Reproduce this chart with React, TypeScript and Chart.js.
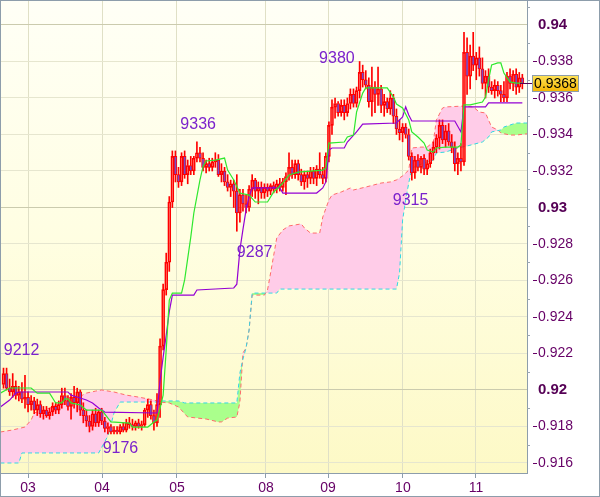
import React, { useEffect, useRef } from "react";
import { Chart, registerables } from "chart.js";

Chart.register(...registerables);

const SANS = "'Liberation Sans', Arial, sans-serif";

// ---- axis data ----
const xTickPos = [8, 32.1, 56.5, 85.5, 105.7, 130.1, 153.9];
const xTickLabels = ["03", "04", "05", "08", "09", "10", "11"];
const yTickValues = [0.916, 0.918, 0.92, 0.922, 0.924, 0.926, 0.928, 0.93, 0.932, 0.934, 0.936, 0.938, 0.94];
const yTickLabels = ["0.916", "0.918", "0.92", "0.922", "0.924", "0.926", "0.928", "0.93", "0.932", "0.934", "0.936", "0.938", "0.94"];
const yMajor = [0.92, 0.93, 0.94];
const yMinor = [0.917, 0.919, 0.921, 0.923, 0.925, 0.927, 0.929, 0.931, 0.933, 0.935, 0.937, 0.939, 0.941];
const X_MIN = -0.814;
const X_MAX = 170.52;
const Y_MIN = 0.915452;
const Y_MAX = 0.941315;
const lastPrice = 0.9368;
const lastPriceLabel = "0.9368";

// ---- candles [open, high, low, close] ----
const candles: [number, number, number, number][] = [
  [0.9203, 0.9212, 0.9201, 0.9209], [0.9209, 0.9212, 0.92, 0.9201], [0.9201, 0.9206, 0.9197, 0.9199], [0.9199, 0.9209, 0.9196, 0.9202],
  [0.9202, 0.9205, 0.9195, 0.9197], [0.9197, 0.9202, 0.9194, 0.9199], [0.9199, 0.9204, 0.9193, 0.9195], [0.9195, 0.9208, 0.919, 0.9196],
  [0.9196, 0.9199, 0.9188, 0.9192], [0.9192, 0.9197, 0.9189, 0.9194], [0.9194, 0.9196, 0.9187, 0.9189], [0.9189, 0.9195, 0.9186, 0.9192],
  [0.9192, 0.9194, 0.9185, 0.9187], [0.9187, 0.9191, 0.9184, 0.9189], [0.9189, 0.9191, 0.9185, 0.9186], [0.9186, 0.919, 0.9184, 0.9188],
  [0.9188, 0.9193, 0.9186, 0.9191], [0.9191, 0.9193, 0.9187, 0.9189], [0.9189, 0.9194, 0.9187, 0.9192], [0.9192, 0.9201, 0.919, 0.9197],
  [0.9197, 0.9201, 0.9192, 0.9194], [0.9194, 0.9197, 0.9189, 0.9191], [0.9191, 0.9198, 0.9184, 0.9196], [0.9196, 0.9202, 0.919, 0.9193],
  [0.9193, 0.9201, 0.9188, 0.9199], [0.9199, 0.92, 0.9186, 0.9189], [0.9189, 0.9193, 0.9182, 0.9186], [0.9186, 0.9189, 0.918, 0.9183],
  [0.9183, 0.9186, 0.9177, 0.918], [0.918, 0.9189, 0.9178, 0.9187], [0.9187, 0.919, 0.918, 0.9182], [0.9182, 0.9189, 0.918, 0.9188],
  [0.9188, 0.919, 0.9181, 0.9183], [0.9183, 0.9185, 0.9177, 0.9179], [0.9179, 0.9182, 0.9176, 0.918], [0.918, 0.9181, 0.9176, 0.9177],
  [0.9177, 0.918, 0.9176, 0.9178], [0.9178, 0.918, 0.9176, 0.9177], [0.9177, 0.9181, 0.9176, 0.918], [0.918, 0.9182, 0.9177, 0.9178],
  [0.9178, 0.9184, 0.9177, 0.9182], [0.9182, 0.9185, 0.9179, 0.9181], [0.9181, 0.9184, 0.9178, 0.918], [0.918, 0.9183, 0.9178, 0.9182],
  [0.9182, 0.9184, 0.9179, 0.918], [0.918, 0.9183, 0.9178, 0.9181], [0.9181, 0.919, 0.918, 0.9189], [0.9189, 0.9195, 0.9185, 0.9192],
  [0.9192, 0.9194, 0.9184, 0.9186], [0.9186, 0.9189, 0.9178, 0.9182], [0.9182, 0.9198, 0.918, 0.9192], [0.9192, 0.9228, 0.9185, 0.9224],
  [0.9224, 0.9258, 0.9222, 0.9255], [0.9255, 0.9275, 0.9252, 0.927], [0.927, 0.9306, 0.9265, 0.9303], [0.9303, 0.9331, 0.93, 0.9328],
  [0.9328, 0.9331, 0.9314, 0.9318], [0.9318, 0.9322, 0.9311, 0.9314], [0.9314, 0.933, 0.9312, 0.9328], [0.9328, 0.9331, 0.9316, 0.9318],
  [0.9318, 0.9326, 0.9313, 0.9323], [0.9323, 0.9328, 0.9318, 0.932], [0.932, 0.9328, 0.9318, 0.9327], [0.9327, 0.9336, 0.9325, 0.933],
  [0.933, 0.9333, 0.9325, 0.9327], [0.9327, 0.933, 0.932, 0.9322], [0.9322, 0.9326, 0.9319, 0.9324], [0.9324, 0.9327, 0.932, 0.9322],
  [0.9322, 0.9327, 0.932, 0.9325], [0.9325, 0.933, 0.9322, 0.9326], [0.9326, 0.9329, 0.9317, 0.9318], [0.9318, 0.9324, 0.9314, 0.932],
  [0.932, 0.9322, 0.9312, 0.9314], [0.9314, 0.9318, 0.9309, 0.9311], [0.9311, 0.9315, 0.9306, 0.9313], [0.9313, 0.9315, 0.93, 0.9309],
  [0.9309, 0.9318, 0.9287, 0.9297], [0.9297, 0.931, 0.9292, 0.9307], [0.9307, 0.931, 0.9298, 0.9302], [0.9302, 0.9307, 0.9297, 0.93],
  [0.93, 0.9312, 0.9298, 0.931], [0.931, 0.9318, 0.9306, 0.9315], [0.9315, 0.9316, 0.9305, 0.9309], [0.9309, 0.9314, 0.9302, 0.9311],
  [0.9311, 0.9314, 0.9305, 0.9308], [0.9308, 0.9313, 0.9305, 0.9311], [0.9311, 0.9313, 0.9306, 0.9309], [0.9309, 0.9313, 0.9307, 0.9312],
  [0.9312, 0.9314, 0.9308, 0.931], [0.931, 0.9315, 0.9308, 0.9313], [0.9313, 0.9316, 0.9309, 0.9311], [0.9311, 0.9316, 0.9309, 0.9314],
  [0.9314, 0.9319, 0.9307, 0.9317], [0.9317, 0.933, 0.9315, 0.9322], [0.9322, 0.9326, 0.9316, 0.9318], [0.9318, 0.9326, 0.9316, 0.9324],
  [0.9324, 0.9326, 0.9315, 0.9318], [0.9318, 0.9321, 0.9312, 0.9314], [0.9314, 0.932, 0.931, 0.9318], [0.9318, 0.932, 0.9311, 0.9316],
  [0.9316, 0.9322, 0.9313, 0.932], [0.932, 0.9322, 0.9313, 0.9316], [0.9316, 0.9323, 0.9312, 0.9321], [0.9321, 0.933, 0.9316, 0.9318],
  [0.9318, 0.9322, 0.9313, 0.9316], [0.9316, 0.933, 0.9314, 0.9328], [0.9328, 0.9347, 0.9325, 0.9345], [0.9345, 0.9359, 0.934, 0.9355],
  [0.9355, 0.936, 0.9349, 0.9357], [0.9357, 0.9358, 0.935, 0.9352], [0.9352, 0.9359, 0.935, 0.9356], [0.9356, 0.9359, 0.9348, 0.9352],
  [0.9352, 0.936, 0.935, 0.9357], [0.9357, 0.9365, 0.9354, 0.9362], [0.9362, 0.9365, 0.9355, 0.9357], [0.9357, 0.9366, 0.9355, 0.9364],
  [0.9364, 0.938, 0.936, 0.9374], [0.9374, 0.9378, 0.9366, 0.937], [0.937, 0.9375, 0.9365, 0.9367], [0.9367, 0.9371, 0.9355, 0.9358],
  [0.9358, 0.9377, 0.935, 0.9366], [0.9366, 0.9369, 0.9352, 0.9362], [0.9362, 0.9377, 0.9356, 0.9365], [0.9365, 0.9367, 0.9352, 0.9356],
  [0.9356, 0.9362, 0.935, 0.9358], [0.9358, 0.936, 0.9352, 0.9354], [0.9354, 0.9364, 0.9351, 0.936], [0.936, 0.9362, 0.9346, 0.935],
  [0.935, 0.9354, 0.934, 0.9343], [0.9343, 0.9348, 0.9337, 0.9341], [0.9341, 0.9346, 0.9336, 0.9344], [0.9344, 0.9346, 0.9338, 0.934],
  [0.934, 0.9343, 0.9326, 0.9328], [0.9328, 0.933, 0.9315, 0.9319], [0.9319, 0.9328, 0.9316, 0.9326], [0.9326, 0.9329, 0.932, 0.9322],
  [0.9322, 0.9328, 0.9319, 0.9327], [0.9327, 0.9329, 0.9318, 0.9321], [0.9321, 0.9326, 0.9318, 0.9324], [0.9324, 0.9332, 0.9322, 0.933],
  [0.933, 0.9336, 0.9326, 0.9333], [0.9333, 0.934, 0.933, 0.9338], [0.9338, 0.9348, 0.9332, 0.9345], [0.9345, 0.9348, 0.9335, 0.9337],
  [0.9337, 0.9345, 0.9333, 0.9342], [0.9342, 0.9346, 0.9334, 0.9336], [0.9336, 0.934, 0.933, 0.9333], [0.9333, 0.9336, 0.932, 0.9324],
  [0.9324, 0.933, 0.9318, 0.9327], [0.9327, 0.9335, 0.932, 0.9325], [0.9325, 0.9396, 0.9323, 0.9385], [0.9385, 0.9393, 0.9362, 0.9372],
  [0.9372, 0.9389, 0.9365, 0.9383], [0.9383, 0.9396, 0.9375, 0.9378], [0.9378, 0.9385, 0.937, 0.9382], [0.9382, 0.9388, 0.9372, 0.9376],
  [0.9376, 0.9382, 0.9365, 0.9368], [0.9368, 0.9375, 0.936, 0.9372], [0.9372, 0.9376, 0.9363, 0.9366], [0.9366, 0.9369, 0.9362, 0.9364],
  [0.9364, 0.937, 0.936, 0.9367], [0.9367, 0.9369, 0.9361, 0.9364], [0.9364, 0.9367, 0.9358, 0.9362], [0.9362, 0.9369, 0.9358, 0.936],
  [0.936, 0.9374, 0.9358, 0.9372], [0.9372, 0.9376, 0.9365, 0.9368], [0.9368, 0.9375, 0.9364, 0.9373], [0.9373, 0.9376, 0.9362, 0.9366],
  [0.9366, 0.9374, 0.9363, 0.9371], [0.9371, 0.9373, 0.9365, 0.9368],
];

// ---- Ichimoku lines [bar index, price] ----
const tenkan: [number, number][] = [
  [-1, 0.91983], [2, 0.92011], [9, 0.92011], [11, 0.91983], [15, 0.91983], [17, 0.91929], [19, 0.91929], [20, 0.91951], [21, 0.91951],
  [22, 0.91929], [25, 0.91918], [27, 0.9189], [32, 0.9189], [35, 0.91825], [41, 0.91819], [42, 0.91797], [47, 0.91797], [49, 0.91825],
  [50, 0.91835], [51, 0.919], [52, 0.91972], [53, 0.92219], [54, 0.92493], [55, 0.92531], [58, 0.92531], [59, 0.92603], [61, 0.92838],
  [62, 0.9297], [64, 0.93151], [65, 0.93225], [66, 0.93255], [69, 0.9326], [72, 0.93271], [73, 0.93205], [75, 0.93151], [77, 0.93079],
  [80, 0.93068], [82, 0.9303], [86, 0.9303], [88, 0.93085], [91, 0.93134], [93, 0.93178], [96, 0.93194], [104, 0.93205], [105, 0.93216],
  [106, 0.93353], [111, 0.93359], [112, 0.93386], [114, 0.93397], [115, 0.93523], [117, 0.93627], [118, 0.93655], [125, 0.93655],
  [127, 0.93605], [128, 0.93567], [130, 0.93545], [132, 0.93479], [133, 0.93414], [135, 0.93386], [137, 0.93353], [138, 0.93315],
  [140, 0.93304], [141, 0.93326], [144, 0.93331], [148, 0.93331], [149, 0.93342], [150, 0.93562], [152, 0.93562], [156, 0.93578],
  [157, 0.93605], [158, 0.93699], [159, 0.93781], [161, 0.93792], [162, 0.93792], [163, 0.93737], [165, 0.93688], [167, 0.93682], [169, 0.93682],
];
const kijun: [number, number][] = [
  [-1, 0.91907], [2, 0.91945], [4, 0.91983], [5, 0.91989], [21, 0.91989], [22, 0.91972], [25, 0.91956], [27, 0.91945], [29, 0.91929],
  [31, 0.91901], [33, 0.91879], [50, 0.91874], [51, 0.9205], [52, 0.9218], [53, 0.923], [54, 0.9243], [55, 0.9252], [62, 0.9252],
  [63, 0.92548], [75, 0.92559], [76, 0.9258], [77, 0.92767], [78, 0.9288], [79, 0.92986], [80, 0.9306], [81, 0.93107], [90, 0.93107],
  [91, 0.93079], [102, 0.93079], [104, 0.93107], [105, 0.9314], [106, 0.93315], [107, 0.93326], [111, 0.93326], [112, 0.93359],
  [115, 0.93414], [117, 0.93457], [128, 0.93463], [130, 0.93496], [131, 0.93551], [132, 0.93507], [133, 0.93474], [147, 0.93474],
  [149, 0.93414], [150, 0.93551], [157, 0.93551], [158, 0.93573], [169, 0.93573],
];
const senkouA: [number, number][] = [
  [-1, 0.9177], [3, 0.91781], [7, 0.91797], [9, 0.91835], [10, 0.91874], [13, 0.9189], [16, 0.91907], [19, 0.91934], [24, 0.91956],
  [27, 0.91983], [30, 0.91994], [32, 0.92], [36, 0.91989], [40, 0.91972], [44, 0.91961], [49, 0.91945], [51, 0.91934], [54, 0.91929],
  [57, 0.91907], [60, 0.91852], [66, 0.91841], [70, 0.91825], [71, 0.91825], [73, 0.91846], [76, 0.91852], [77, 0.91934], [78, 0.92203],
  [79, 0.9223], [80, 0.92329], [81, 0.9252], [85, 0.9252], [86, 0.92548], [87, 0.92641], [89, 0.92833], [91, 0.92877], [93, 0.92899],
  [97, 0.9291], [98, 0.92888], [100, 0.9286], [103, 0.9286], [104, 0.92948], [106, 0.93041], [107, 0.93068], [110, 0.93085],
  [113, 0.93107], [114, 0.93096], [118, 0.93112], [123, 0.93134], [126, 0.9314], [128, 0.93151], [130, 0.93173], [132, 0.93205],
  [133, 0.93326], [136, 0.93331], [138, 0.93331], [140, 0.93359], [141, 0.93479], [143, 0.93545], [144, 0.93551], [150, 0.93556],
  [153, 0.93551], [155, 0.93523], [157, 0.93518], [158, 0.93479], [159, 0.93441], [161, 0.93425], [162, 0.93408], [165, 0.93397],
  [167, 0.93397], [170, 0.93403], [172, 0.93403],
];
const senkouB: [number, number][] = [
  [-1, 0.916], [5, 0.916], [6, 0.91655], [31, 0.91655], [34, 0.91748], [36, 0.91874], [38, 0.91934], [50, 0.91934], [51, 0.9194],
  [57, 0.9194], [59, 0.91929], [76, 0.91929], [77, 0.92093], [78, 0.9217], [79, 0.9223], [80, 0.92329], [81, 0.92531], [89, 0.92531],
  [90, 0.92553], [128, 0.92553], [129, 0.92641], [130, 0.92931], [131, 0.93041], [132, 0.93134], [133, 0.93216], [137, 0.93244],
  [140, 0.9326], [141, 0.93299], [144, 0.93304], [148, 0.93326], [151, 0.93337], [156, 0.93359], [158, 0.93386], [159, 0.93414],
  [162, 0.93425], [163, 0.93441], [167, 0.93463], [170, 0.93463], [172, 0.93463],
];

// ---- zigzag swing labels ----
const swingText = ["9212", "9336", "9380", "9287", "9315", "9176"];
const swingIdx = [5.9, 63.4, 108.6, 81.8, 132.6, 38.1];
const swingPrice = [0.92214, 0.93457, 0.93814, 0.92753, 0.93036, 0.9168];

const RED = "#ff0000";
const BEAR = "#7a48c4";
const PINK = "#ffcce8";
const GREEN_FILL = "#aaff8c";
const FRAME = "#8d9dab";
const AXIS_TXT = "#660066";

const isMajor = (v: number) => yMajor.some((m) => Math.abs(m - v) < 1e-7);

const framePlugin = {
  id: "frame",
  beforeDraw(chart: any) {
    const { ctx, chartArea } = chart;
    const { left, top, right, bottom } = chartArea;
    ctx.save();
    ctx.fillStyle = "#ffffff";
    ctx.fillRect(0, 0, chart.width, chart.height);
    const g = ctx.createLinearGradient(0, top, 0, bottom);
    g.addColorStop(0, "#fffff6");
    g.addColorStop(0.5, "#fffee2");
    g.addColorStop(1, "#fdf9c6");
    ctx.fillStyle = g;
    ctx.fillRect(left, top, right - left, bottom - top);
    ctx.restore();
  },
  afterDraw(chart: any) {
    const { ctx, chartArea } = chart;
    const { right, bottom } = chartArea;
    const ys = chart.scales.y;
    const xs = chart.scales.x;
    ctx.save();
    ctx.strokeStyle = FRAME;
    ctx.lineWidth = 1;
    ctx.strokeRect(0.5, 0.5, chart.width - 1, chart.height - 1);
    ctx.beginPath();
    ctx.moveTo(0.5, 0.5);
    ctx.lineTo(0.5, bottom);
    ctx.moveTo(0.5, 0.5);
    ctx.lineTo(right, 0.5);
    ctx.stroke();
    // minor ticks on the price axis
    ctx.strokeStyle = "#9aa6b0";
    yMinor.forEach((v) => {
      const py = Math.round(ys.getPixelForValue(v)) + 0.5;
      ctx.beginPath();
      ctx.moveTo(right, py);
      ctx.lineTo(right + 3, py);
      ctx.stroke();
    });
    // dash marks before regular labels
    ctx.strokeStyle = AXIS_TXT;
    yTickValues.forEach((v) => {
      if (isMajor(v)) return;
      const py = Math.round(ys.getPixelForValue(v)) + 0.5;
      ctx.beginPath();
      ctx.moveTo(533, py);
      ctx.lineTo(537, py);
      ctx.stroke();
    });
    // swing labels
    ctx.fillStyle = "#7b22cc";
    ctx.font = "16px " + SANS;
    ctx.textAlign = "center";
    ctx.textBaseline = "middle";
    swingText.forEach((t, i) => {
      ctx.fillText(t, xs.getPixelForValue(swingIdx[i]), ys.getPixelForValue(swingPrice[i]));
    });
    // last price marker + box
    const py = Math.round(ys.getPixelForValue(lastPrice));
    ctx.strokeStyle = "#550055";
    ctx.beginPath();
    ctx.moveTo(right - 7, py + 0.5);
    ctx.lineTo(right + 5, py + 0.5);
    ctx.stroke();
    const bx = 532, bw = 47, bh = 17, by = py - 8;
    const bg = ctx.createLinearGradient(0, by, 0, by + bh);
    bg.addColorStop(0, "#ffe45a");
    bg.addColorStop(1, "#f4b400");
    ctx.fillStyle = bg;
    ctx.fillRect(bx, by, bw, bh);
    ctx.strokeStyle = FRAME;
    ctx.strokeRect(bx + 0.5, by + 0.5, bw - 1, bh - 1);
    ctx.fillStyle = "#000000";
    ctx.font = "14px " + SANS;
    ctx.textAlign = "center";
    ctx.textBaseline = "middle";
    ctx.fillText(lastPriceLabel, bx + bw / 2, py + 1);
    ctx.restore();
  },
};

export default function App() {
  const ref = useRef<HTMLCanvasElement>(null);
  useEffect(() => {
    document.body.style.margin = "0";
    const canvas = ref.current;
    if (!canvas) return;
    const toPts = (arr: [number, number][]) => arr.map(([x, y]) => ({ x, y }));
    const bodyData = candles.map((c, i) => ({ x: i, y: [c[0], c[3]] }));
    const upperWick = candles.map((c, i) => ({ x: i, y: [Math.max(c[0], c[3]), c[1]] }));
    const lowerWick = candles.map((c, i) => ({ x: i, y: [c[2], Math.min(c[0], c[3])] }));

    const chart = new Chart(canvas, {
      type: "line",
      data: {
        datasets: [
          {
            type: "line", label: "Senkou Span A", data: toPts(senkouA), borderColor: "#ff6b6b", borderWidth: 1,
            borderDash: [4, 3], pointRadius: 0, tension: 0, order: 9,
            fill: { target: 1, above: PINK, below: GREEN_FILL },
          },
          {
            type: "line", label: "Senkou Span B", data: toPts(senkouB), borderColor: "#33d6e6", borderWidth: 1,
            borderDash: [4, 3], pointRadius: 0, tension: 0, order: 8, fill: false,
          },
          {
            type: "bar", label: "upper wick", data: upperWick, backgroundColor: RED, borderWidth: 0,
            barThickness: 1, grouped: false, order: 6,
          },
          {
            type: "bar", label: "lower wick", data: lowerWick, backgroundColor: RED, borderWidth: 0,
            barThickness: 1, grouped: false, order: 6,
          },
          {
            type: "bar", label: "body", data: bodyData,
            backgroundColor: (ctx: any) => {
              const c = candles[ctx.dataIndex];
              return c && c[3] < c[0] ? BEAR : "rgba(0,0,0,0)";
            },
            borderColor: RED, borderWidth: 1, borderSkipped: false, barThickness: 3, minBarLength: 1,
            grouped: false, order: 5,
          },
          {
            type: "line", label: "Kijun-sen", data: toPts(kijun), borderColor: "#9400d3", borderWidth: 1.2,
            pointRadius: 0, tension: 0, order: 2, fill: false,
          },
          {
            type: "line", label: "Tenkan-sen", data: toPts(tenkan), borderColor: "#2ee82e", borderWidth: 1.2,
            pointRadius: 0, tension: 0, order: 1, fill: false,
          },
        ],
      } as any,
      options: {
        responsive: false,
        animation: false,
        devicePixelRatio: 1,
        layout: { padding: { left: 1, top: 1, right: 0, bottom: 0 }, autoPadding: false },
        plugins: { legend: { display: false }, tooltip: { enabled: false } },
        scales: {
          x: {
            type: "linear",
            min: X_MIN,
            max: X_MAX,
            offset: false,
            afterBuildTicks: (s: any) => { s.ticks = xTickPos.map((v) => ({ value: v })); },
            afterFit: (s: any) => { s.height = 24; s.paddingLeft = 0; s.paddingRight = 0; },
            ticks: {
              callback: (_v: any, i: number) => xTickLabels[i],
              color: AXIS_TXT,
              font: { family: SANS, size: 14 },
              padding: 2,
              maxRotation: 0,
              autoSkip: false,
            },
            grid: { color: "#e0e0c6", tickColor: FRAME, tickLength: 5, offset: false, drawTicks: true },
            border: { color: FRAME },
          },
          y: {
            type: "linear",
            position: "right",
            min: Y_MIN,
            max: Y_MAX,
            afterBuildTicks: (s: any) => { s.ticks = yTickValues.map((v) => ({ value: v })); },
            afterFit: (s: any) => { s.width = 73; s.paddingTop = 0; s.paddingBottom = 0; },
            ticks: {
              callback: (_v: any, i: number) => yTickLabels[i],
              color: (c: any) => (c.tick && isMajor(c.tick.value) ? "#550055" : AXIS_TXT),
              font: (c: any) => ({ family: SANS, size: c.tick && isMajor(c.tick.value) ? 15 : 14, weight: c.tick && isMajor(c.tick.value) ? "bold" : "normal" }),
              padding: 11,
            },
            grid: {
              color: (c: any) => (c.tick && isMajor(c.tick.value) ? "#cbcbae" : "#e6e6cf"),
              drawTicks: false,
            },
            border: { color: FRAME },
          },
        },
      } as any,
      plugins: [framePlugin],
    });
    return () => chart.destroy();
  }, []);

  return (
    <div style={{ width: 600, height: 497, position: "relative" }}>
      <canvas ref={ref} width={600} height={497} style={{ display: "block", width: 600, height: 497 }} />
    </div>
  );
}
